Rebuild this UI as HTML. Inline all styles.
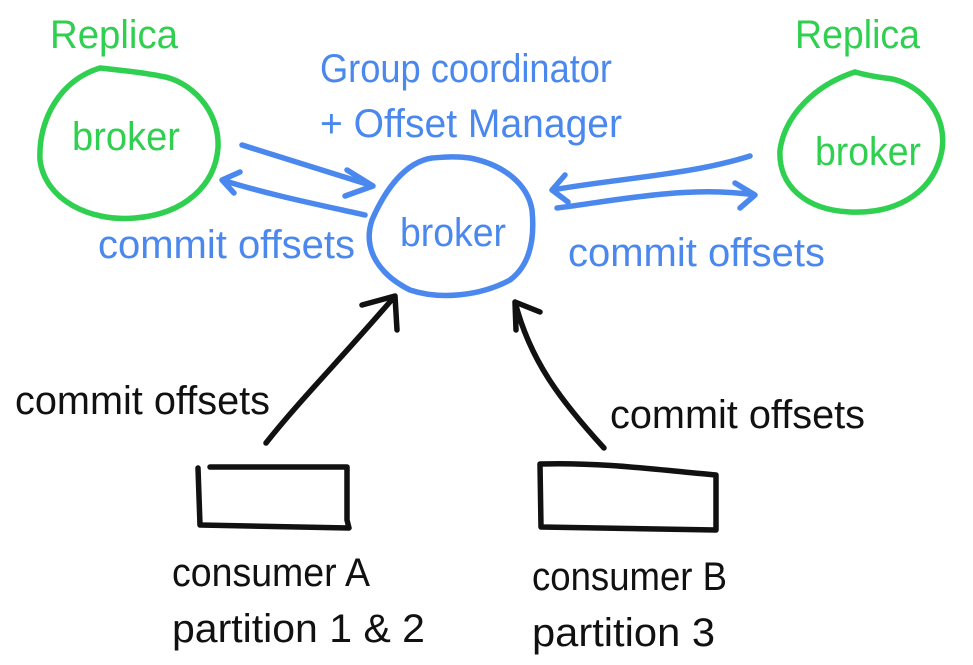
<!DOCTYPE html>
<html><head><meta charset="utf-8"><style>
html,body{margin:0;padding:0;background:#fff;}
svg{display:block;}
text{font-family:"Liberation Sans Narrow","Liberation Sans",sans-serif;}
</style></head><body>
<svg width="973" height="665" viewBox="0 0 973 665" xmlns="http://www.w3.org/2000/svg">
<g fill="none" stroke-linecap="round" stroke-linejoin="round" stroke-width="5.5">
<path d="M100 68 C60 80 38 120 40 160 C45 200 90 222 135 218 C185 214 215 185 218 148 C220 110 190 80 160 76 C140 72 118 70 100 68" stroke="#2fcf4f"/>
<path d="M855 72 C815 85 785 115 780 150 C778 185 805 210 850 212 C900 214 935 190 942 150 C948 110 915 80 885 78 C870 76 862 74 855 72" stroke="#2fcf4f"/>
<path d="M432 158 C405 162 385 190 372 220 C362 250 380 275 410 290 C440 300 480 296 510 280 C530 265 535 240 532 210 C528 185 505 165 470 158 C455 156 445 157 432 158" stroke="#4a88ee"/>
<path d="M242 145 L373 186 M347 170 L373 186 L345 196" stroke="#4a88ee"/>
<path d="M365 215 C320 205 270 195 222 180 M240 172 L222 180 L234 193" stroke="#4a88ee"/>
<path d="M750 156 C690 175 620 178 552 190 M565 175 L552 190 L568 202" stroke="#4a88ee"/>
<path d="M557 208 C620 200 690 185 755 195 M735 183 L755 195 L740 208" stroke="#4a88ee"/>
<path d="M266 443 C300 400 340 360 395 296 M362 305 L395 296 L397 330" stroke="#111"/>
<path d="M604 448 C560 400 530 360 515 302 M516 330 L515 302 L540 312" stroke="#111"/>
<path d="M210 467 L347 467 L347 520 L349 528 L200 525 L198 468" stroke="#111"/>
<path d="M540 464 C600 462 660 470 716 475 L716 530 L541 527 L540 464" stroke="#111"/>
</g>
<g font-size="40">
<text x="50" y="48" fill="#2fcf4f" textLength="128" lengthAdjust="spacingAndGlyphs">Replica</text>
<text x="795" y="48" fill="#2fcf4f" textLength="125" lengthAdjust="spacingAndGlyphs">Replica</text>
<text x="72" y="150" fill="#2fcf4f" textLength="108" lengthAdjust="spacingAndGlyphs">broker</text>
<text x="815" y="165" fill="#2fcf4f" textLength="106" lengthAdjust="spacingAndGlyphs">broker</text>
<text x="400" y="246" fill="#4a88ee" textLength="106" lengthAdjust="spacingAndGlyphs">broker</text>
<text x="320" y="82" fill="#4a88ee" textLength="292" lengthAdjust="spacingAndGlyphs">Group coordinator</text>
<text x="320" y="137" fill="#4a88ee" textLength="302" lengthAdjust="spacingAndGlyphs">+ Offset Manager</text>
<text x="98" y="258" fill="#4a88ee" textLength="257" lengthAdjust="spacingAndGlyphs">commit offsets</text>
<text x="568" y="266" fill="#4a88ee" textLength="257" lengthAdjust="spacingAndGlyphs">commit offsets</text>
<text x="15" y="414" fill="#111" textLength="255" lengthAdjust="spacingAndGlyphs">commit offsets</text>
<text x="610" y="428" fill="#111" textLength="255" lengthAdjust="spacingAndGlyphs">commit offsets</text>
<text x="172" y="586" fill="#111" textLength="198" lengthAdjust="spacingAndGlyphs">consumer A</text>
<text x="172" y="642" fill="#111" textLength="253" lengthAdjust="spacingAndGlyphs">partition 1 &amp; 2</text>
<text x="532" y="590" fill="#111" textLength="195" lengthAdjust="spacingAndGlyphs">consumer B</text>
<text x="532" y="646" fill="#111" textLength="183" lengthAdjust="spacingAndGlyphs">partition 3</text>
</g>
</svg>
</body></html>
